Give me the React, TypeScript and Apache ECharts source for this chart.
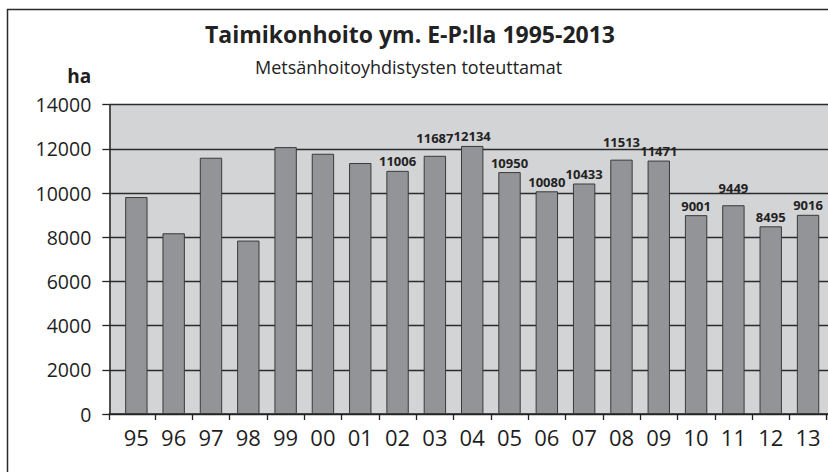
import React, { useEffect, useRef } from "react";
import * as echarts from "echarts";

const categories = ["95", "96", "97", "98", "99", "00", "01", "02", "03", "04", "05", "06", "07", "08", "09", "10", "11", "12", "13"];
const hectares = [9820, 8180, 11600, 7850, 12080, 11780, 11360, 11006, 11687, 12134, 10950, 10080, 10433, 11513, 11471, 9001, 9449, 8495, 9016];
const labelledYears = ["02", "03", "04", "05", "06", "07", "08", "09", "10", "11", "12", "13"];
const raisedLabelYears = ["03", "08", "11"];
const yTicks = { min: 0, max: 14000, interval: 2000 };

const titleText = "Taimikonhoito ym. E-P:lla 1995-2013";
const subtitleText = "Metsänhoitoyhdistysten toteuttamat";
const unitText = "ha";

export default function App() {
  const ref = useRef<HTMLDivElement>(null);
  useEffect(() => {
    if (!ref.current) return;
    const chart = echarts.init(ref.current, null, { renderer: "svg" });
    const font = "Open Sans";
    const gridTop = 104.7;
    const gridBottom = 58;
    chart.setOption({
      animation: false,
      backgroundColor: "#ffffff",
      title: [
        {
          text: titleText,
          left: 205,
          top: 22,
          padding: 0,
          textStyle: { fontFamily: font, fontWeight: "bold", fontSize: 23, color: "#222222" },
        },
        {
          text: subtitleText,
          left: 255,
          top: 58,
          padding: 0,
          textStyle: { fontFamily: font, fontWeight: "normal", fontSize: 18, color: "#222222" },
        },
      ],
      graphic: [
        {
          type: "rect",
          silent: true,
          z: -10,
          shape: { x: 7.5, y: 9.5, width: 900, height: 600 },
          style: { fill: "none", stroke: "#2a2a2a", lineWidth: 1.5 },
        },
      ],
      grid: [
        {
          left: 109.3,
          right: 0,
          top: gridTop,
          bottom: gridBottom,
          show: true,
          backgroundColor: "#d3d4d6",
          borderWidth: 0,
        },
        {
          left: 117.7,
          right: 1.3,
          top: gridTop,
          bottom: gridBottom,
        },
      ],
      xAxis: [
        {
          gridIndex: 0,
          type: "value",
          min: 0,
          max: 1,
          interval: 1,
          axisLine: { show: true, lineStyle: { color: "#222222", width: 1.5 } },
          axisTick: { show: true, length: 6, lineStyle: { color: "#222222", width: 1.3 } },
          axisLabel: { show: false },
          splitLine: { show: false },
        },
        {
          gridIndex: 1,
          type: "category",
          data: categories,
          boundaryGap: true,
          axisLine: { show: false },
          axisTick: {
            show: true,
            length: 6,
            interval: (i: number) => i !== 0,
            lineStyle: { color: "#222222", width: 1.3 },
          },
          axisLabel: { fontFamily: font, fontSize: 22, color: "#1e1e1e", margin: 12 },
        },
      ],
      yAxis: [
        {
          gridIndex: 0,
          type: "value",
          ...yTicks,
          name: unitText,
          nameLocation: "end",
          nameGap: 29,
          nameTextStyle: {
            fontFamily: font,
            fontWeight: "bold",
            fontSize: 19,
            color: "#1e1e1e",
            align: "right",
            verticalAlign: "middle",
            padding: [0, 18, 0, 0],
          },
          axisLine: { show: true, lineStyle: { color: "#222222", width: 1.5 } },
          axisTick: { show: true, length: 7, lineStyle: { color: "#222222", width: 1.3 } },
          axisLabel: {
            fontFamily: font,
            fontSize: 19.5,
            color: "#1e1e1e",
            margin: 18,
            formatter: (v: number) => String(v),
          },
          splitLine: { show: true, lineStyle: { color: "#2b2b2b", width: 1.3 } },
        },
        {
          gridIndex: 1,
          type: "value",
          ...yTicks,
          show: false,
          splitLine: { show: false },
        },
      ],
      series: [
        {
          type: "bar",
          xAxisIndex: 1,
          yAxisIndex: 1,
          barWidth: "60%",
          data: hectares.map((v, i) => ({
            value: v,
            label: {
              show: labelledYears.includes(categories[i]),
              distance: raisedLabelYears.includes(categories[i]) ? 11 : 3,
            },
          })),
          itemStyle: { color: "#939497", borderColor: "#3a3a3a", borderWidth: 1 },
          label: {
            position: "top",
            distance: 3,
            fontFamily: font,
            fontWeight: "bold",
            fontSize: 13,
            color: "#222222",
          },
        },
      ],
    });
    return () => chart.dispose();
  }, []);
  return <div ref={ref} style={{ position: "absolute", left: 0, top: 0, width: 828, height: 472 }} />;
}
